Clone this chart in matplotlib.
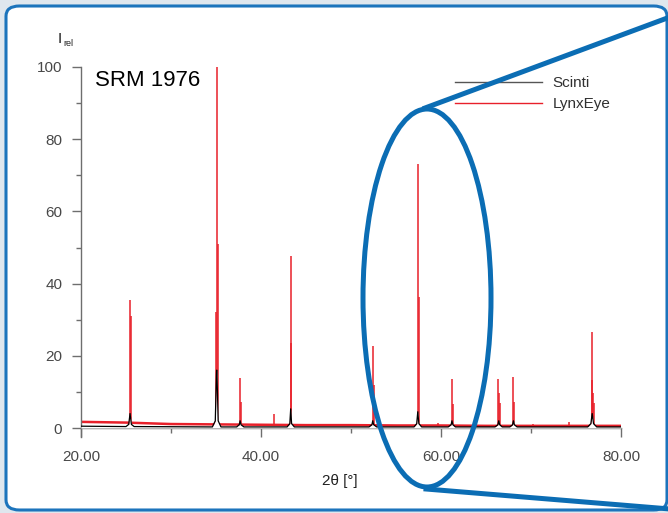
import matplotlib

matplotlib.use("Agg")
import matplotlib.pyplot as plt
from matplotlib.patches import Ellipse, FancyBboxPatch
from matplotlib.lines import Line2D

# LynxEye (red) background and peak list
lynx_bg_x = [20, 25, 30, 35, 40, 45, 50, 55, 60, 65, 70, 75, 80]
lynx_bg_y = [1.7, 1.5, 1.1, 1.0, 0.9, 0.8, 0.8, 0.7, 0.7, 0.6, 0.6, 0.6, 0.6]
lynx_pos = [25.40, 25.50, 34.98, 35.08, 35.17, 37.64, 37.74, 41.48,
            43.28, 43.38, 52.40, 52.50, 57.40, 57.50, 59.65, 61.20, 61.30,
            66.38, 66.47, 66.56, 68.02, 68.12, 70.25, 74.27,
            76.74, 76.83, 76.92, 77.01]
lynx_height = [35.5, 31.0, 32.0, 100.0, 51.0, 13.8, 7.3, 3.9,
               47.6, 23.6, 22.7, 12.0, 73.0, 36.4, 1.5, 13.5, 6.6,
               13.6, 9.7, 7.0, 14.0, 7.2, 1.1, 1.8,
               26.7, 13.3, 9.7, 7.0]

# Scinti (black) trace
scinti_x = [20, 25.0, 25.3, 25.45, 25.6, 25.9,
            34.6, 34.92, 35.06, 35.1, 35.24, 35.55,
            37.3, 37.58, 37.68, 37.78, 38.1,
            42.9, 43.2, 43.3, 43.4, 43.7,
            52.0, 52.32, 52.42, 52.52, 52.85,
            57.0, 57.3, 57.42, 57.54, 57.85,
            60.8, 61.12, 61.22, 61.32, 61.6,
            66.0, 66.32, 66.42, 66.52, 66.8,
            67.65, 67.95, 68.05, 68.15, 68.45,
            76.3, 76.65, 76.8, 76.95, 77.3, 80]
scinti_y = [0.5, 0.4, 1.0, 4.0, 1.0, 0.4,
            0.3, 2.0, 16.0, 16.0, 2.0, 0.3,
            0.3, 0.9, 2.0, 0.9, 0.3,
            0.3, 1.2, 5.3, 1.2, 0.3,
            0.3, 0.9, 2.0, 0.9, 0.3,
            0.3, 1.2, 4.5, 1.2, 0.3,
            0.3, 0.9, 2.0, 0.9, 0.3,
            0.3, 0.9, 2.0, 0.9, 0.3,
            0.3, 0.9, 2.0, 0.9, 0.3,
            0.3, 1.2, 4.0, 1.2, 0.3, 0.3]

x_ticks = [20, 40, 60, 80]
x_tick_labels = ["20.00", "40.00", "60.00", "80.00"]
y_ticks = [0, 20, 40, 60, 80, 100]

W, H = 668, 513
BLUE = "#0b6db4"
RED = "#e8202a"
GREY = "#6e6e6e"


def fx(px):
    return px / W


def fy(py):
    return 1 - py / H


plt.rcParams.update({"font.family": ["Liberation Sans", "DejaVu Sans"]})

fig = plt.figure(figsize=(W / 100, H / 100), dpi=100)
fig.patch.set_facecolor("#dfe7ee")

frame = FancyBboxPatch((fx(6), fy(510)), fx(661), fy(6) - fy(510),
                       boxstyle="round,pad=0,rounding_size=0.02",
                       transform=fig.transFigure, facecolor="white",
                       edgecolor="#1c74bc", linewidth=2.2, zorder=-5)
fig.patches.append(frame)

ax = fig.add_axes([fx(81), fy(428), fx(540), fy(67) - fy(428)])
ax.set_facecolor("none")
ax.set_zorder(1)

ax.plot(lynx_bg_x, lynx_bg_y, color=RED, lw=1.8, zorder=2, label="LynxEye")
ax.vlines(lynx_pos, 0.6, lynx_height, color=RED, lw=1.1, zorder=2)
ax.fill_between(scinti_x, 0, scinti_y, color="white", lw=0, zorder=3)
ax.plot(scinti_x, scinti_y, color="black", lw=0.9, zorder=4, label="Scinti")

ax.set_xlim(20, 80)
ax.set_ylim(0, 100)
ax.set_xticks(x_ticks, x_tick_labels)
ax.set_xticks([30, 50, 70], minor=True)
ax.set_yticks(y_ticks)
ax.set_yticks([10, 30, 50, 70, 90], minor=True)
for side in ["top", "right"]:
    ax.spines[side].set_visible(False)
for side in ["left", "bottom"]:
    ax.spines[side].set_color(GREY)
    ax.spines[side].set_linewidth(1.0)
ax.spines["left"].set_bounds(-2.5, 100)
ax.tick_params(axis="both", which="major", direction="out", length=6.5,
               width=1.0, color=GREY, labelcolor="#484848", labelsize=11)
ax.tick_params(axis="both", which="minor", direction="out", length=3.5,
               width=1.0, color=GREY)
ax.tick_params(axis="x", which="major", pad=9)
ax.tick_params(axis="y", which="major", pad=7)

ax.set_xlabel("2θ [°]", fontsize=11, color="#202020")
ax.xaxis.set_label_coords((340 - 81) / 540, (428 - 481) / 361)
ax.xaxis.label.set_va("center")

fig.text(fx(60), fy(39), "I", fontsize=11, color="#202020", ha="center", va="center")
fig.text(fx(68), fy(44), "rel", fontsize=6.5, color="#202020", ha="center", va="center")
ax.text(fx(95), fy(80), "SRM 1976", transform=fig.transFigure,
        fontsize=16, color="black", ha="left", va="center")

handles, labels = ax.get_legend_handles_labels()
leg = ax.legend(handles[::-1], labels[::-1], loc="upper left",
                bbox_to_anchor=(fx(455), fy(76)), bbox_transform=fig.transFigure,
                frameon=False, fontsize=11, handlelength=5.7, handletextpad=0.7,
                labelspacing=0.45, borderpad=0, borderaxespad=0)
leg_lines = leg.get_lines()
leg_lines[0].set_color("#555555")
for ln in leg_lines:
    ln.set_linewidth(1.0)
for t in leg.get_texts():
    t.set_color("#303030")

# zoom callout
ell = Ellipse((fx(427), fy(298)), fx(128), fy(110) - fy(488),
              transform=fig.transFigure, facecolor="none", edgecolor=BLUE,
              linewidth=3.6, zorder=10)
fig.patches.append(ell)
fig.lines.append(Line2D([fx(425), fx(670)], [fy(108), fy(17)],
                        transform=fig.transFigure, color=BLUE, lw=3.6, zorder=10))
fig.lines.append(Line2D([fx(426), fx(670)], [fy(489), fy(509)],
                        transform=fig.transFigure, color=BLUE, lw=3.6, zorder=10))

fig.savefig("out.png", dpi=100)
